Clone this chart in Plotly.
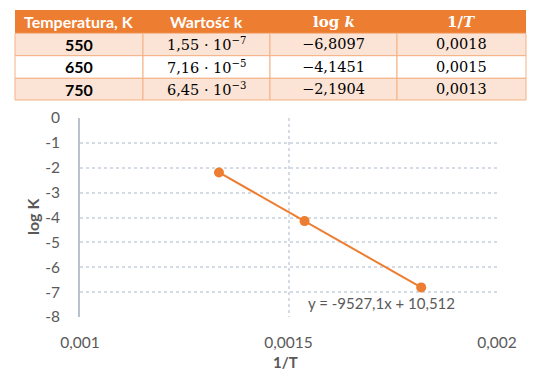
import plotly.graph_objects as go

# ---- data ----
temperatures = ["550", "650", "750"]
k_values = ["1,55 · 10<sup>−7</sup>", "7,16 · 10<sup>−5</sup>", "6,45 · 10<sup>−3</sup>"]
log_k_labels = ["−6,8097", "−4,1451", "−2,1904"]
inv_T_labels = ["0,0018", "0,0015", "0,0013"]
headers = ["Temperatura, K", "Wartość k", "log <i>k</i>", "1/<i>T</i>"]

inv_T = [0.0018182, 0.0015385, 0.0013333]
log_k = [-6.8097, -4.1451, -2.1904]

x_tick_vals = [0.001, 0.0015, 0.002]
x_tick_text = ["0,001", "0,0015", "0,002"]
y_tick_vals = [0, -1, -2, -3, -4, -5, -6, -7, -8]
y_tick_text = ["0", "-1", "-2", "-3", "-4", "-5", "-6", "-7", "-8"]
trend_label = "y = -9527,1x + 10,512"
x_title = "1/T"
y_title = "log K"

ORANGE = "#ED7D31"
LIGHT = "#FBE4D5"
BORDER = "#F4B183"
GRAY = "#595959"
GRID = "#D5DBE4"
OFF = 8  # page body margin
W, H = 557 - OFF, 372 - OFF
SANS = "Lato"
SERIF = "DejaVu Serif"

# table geometry (page pixels)
col_edges = [15, 143, 270, 397, 526]
row_edges = [10, 33.3, 55.7, 78.3, 100]

def px(x):
    return (x - OFF) / W

def py(y):
    return 1 - (y - OFF) / H

shapes = []
annotations = []

# header background
shapes.append(dict(type="rect", xref="paper", yref="paper",
                   x0=px(col_edges[0]), x1=px(col_edges[-1]),
                   y0=py(row_edges[1]), y1=py(row_edges[0]),
                   fillcolor=ORANGE, line=dict(width=0), layer="below"))
row_fills = [LIGHT, "white", LIGHT]
for r in range(3):
    for c in range(4):
        shapes.append(dict(type="rect", xref="paper", yref="paper",
                           x0=px(col_edges[c]), x1=px(col_edges[c + 1]),
                           y0=py(row_edges[r + 2]), y1=py(row_edges[r + 1]),
                           fillcolor=row_fills[r], line=dict(color=BORDER, width=1),
                           layer="below"))

header_fonts = [SANS, SANS, SERIF, SERIF]
header_sizes = [16, 16, 15, 15]
for c, htxt in enumerate(headers):
    annotations.append(dict(xref="paper", yref="paper",
                            x=px((col_edges[c] + col_edges[c + 1]) / 2),
                            y=py((row_edges[0] + row_edges[1]) / 2),
                            text="<b>%s</b>" % htxt, showarrow=False,
                            xanchor="center", yanchor="middle",
                            font=dict(family=header_fonts[c], size=header_sizes[c], color="white")))

columns = [["<b>%s</b>" % t for t in temperatures], k_values, log_k_labels, inv_T_labels]
col_fonts = [SANS, SERIF, SERIF, SERIF]
col_sizes = [16, 14.5, 14.5, 14.5]
for c, col in enumerate(columns):
    for r, txt in enumerate(col):
        annotations.append(dict(xref="paper", yref="paper",
                                x=px((col_edges[c] + col_edges[c + 1]) / 2),
                                y=py((row_edges[r + 1] + row_edges[r + 2]) / 2),
                                text=txt, showarrow=False,
                                xanchor="center", yanchor="middle",
                                font=dict(family=col_fonts[c], size=col_sizes[c], color="black")))

fig = go.Figure()

fig.add_trace(go.Scatter(
    x=inv_T, y=log_k, mode="lines+markers",
    line=dict(color=ORANGE, width=2),
    marker=dict(color=ORANGE, size=10),
    showlegend=False,
))

annotations.append(dict(
    x=0.001722, y=-7.43, xref="x", yref="y", text=trend_label,
    showarrow=False, font=dict(family=SANS, size=15, color=GRAY),
))
annotations.append(dict(
    xref="paper", yref="paper", x=px(285), y=py(362), text="<b>%s</b>" % x_title,
    showarrow=False, xanchor="center", yanchor="middle",
    font=dict(family=SANS, size=15, color=GRAY),
))
annotations.append(dict(
    xref="paper", yref="paper", x=px(33), y=py(217), text="<b>%s</b>" % y_title,
    showarrow=False, xanchor="center", yanchor="middle", textangle=-90,
    font=dict(family=SANS, size=16, color=GRAY),
))

fig.update_layout(
    width=W, height=H,
    margin=dict(l=0, r=0, t=0, b=0),
    paper_bgcolor="white", plot_bgcolor="white",
    shapes=shapes, annotations=annotations,
    xaxis=dict(
        domain=[px(80), px(497)], range=[0.001, 0.002],
        tickvals=x_tick_vals, ticktext=x_tick_text,
        showgrid=True, gridcolor=GRID, griddash="dot", gridwidth=1.5,
        zeroline=False, showline=False, ticks="", automargin=False,
        ticklabelstandoff=14,
        tickfont=dict(family=SANS, size=15.5, color=GRAY),
    ),
    yaxis=dict(
        domain=[py(317), py(118)], range=[-8, 0],
        tickvals=y_tick_vals, ticktext=y_tick_text,
        showgrid=True, gridcolor=GRID, griddash="dot", gridwidth=1.5,
        zeroline=False, showline=True, linecolor="#B8C2CE", linewidth=2,
        ticks="", automargin=False, ticklabelstandoff=15,
        tickfont=dict(family=SANS, size=15.5, color=GRAY),
    ),
)

fig.write_html("out.html")
